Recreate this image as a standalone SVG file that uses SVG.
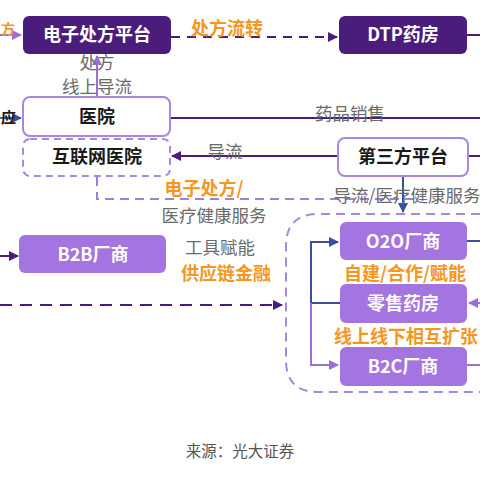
<svg xmlns="http://www.w3.org/2000/svg" width="480" height="480" viewBox="0 0 480 480">
<style>
.t{font-family:"Noto Sans CJK SC","Liberation Sans",sans-serif;text-anchor:middle}
.bw{font-size:18px;font-weight:bold;fill:#fff}
.bk{font-size:18px;font-weight:bold;fill:#1a1a1a}
.g{font-size:17.5px;fill:#6b6b6b}
.o{font-size:18px;font-weight:bold;fill:#f5961e}
.dark{fill:#4a1c7c}
.mid{fill:#a474e0}
.wb{fill:#fff;stroke:#a887e0;stroke-width:2}
.ln{fill:none;stroke-width:2}
</style>
<defs>
<marker id="aD" viewBox="0 0 10 10" refX="9" refY="5" markerWidth="5" markerHeight="5" orient="auto"><path d="M0,0L10,5L0,10z" fill="#4a1c7c"/></marker>
<marker id="aL" viewBox="0 0 10 10" refX="9" refY="5" markerWidth="5" markerHeight="5" orient="auto"><path d="M0,0L10,5L0,10z" fill="#9a70d8"/></marker>
<marker id="aB" viewBox="0 0 10 10" refX="9" refY="5" markerWidth="5" markerHeight="5" orient="auto"><path d="M0,0L10,5L0,10z" fill="#3c4c9e"/></marker>
</defs>
<rect width="480" height="480" fill="#fff"/>
<g id="connectors">
<line x1="0" y1="35" x2="21" y2="35" class="ln" stroke="#9a70d8" marker-end="url(#aL)"/>
<line x1="171" y1="37" x2="337" y2="37" class="ln" stroke="#4a1c7c" stroke-dasharray="9,7" marker-end="url(#aD)"/>
<line x1="467" y1="35" x2="480" y2="35" class="ln" stroke="#4a1c7c"/>
<line x1="97" y1="96" x2="97" y2="56" class="ln" stroke="#9a70d8" marker-end="url(#aL)"/>
<line x1="0" y1="118" x2="21" y2="118" class="ln" stroke="#3c6cc0" marker-end="url(#aB)"/>
<line x1="170" y1="118" x2="480" y2="118" class="ln" stroke="#4a1c7c"/>
<line x1="337" y1="156" x2="172" y2="156" class="ln" stroke="#4a1c7c" marker-end="url(#aD)"/>
<line x1="468" y1="156" x2="480" y2="156" class="ln" stroke="#4a1c7c"/>
<path d="M97,177V199H420" class="ln" stroke="#9a80e0" stroke-dasharray="9,6"/>
<line x1="403" y1="177" x2="403" y2="212" class="ln" stroke="#3c4c9e" marker-end="url(#aB)"/>
<path d="M480,214H318Q286,214 286,246V360Q286,392 318,392H480" class="ln" stroke="#a887e0" stroke-dasharray="9,6"/>
<line x1="0" y1="256" x2="18" y2="256" class="ln" stroke="#4a1c7c" marker-end="url(#aD)"/>
<line x1="0" y1="305" x2="282" y2="305" class="ln" stroke="#4a1c7c" stroke-dasharray="12,8" marker-end="url(#aD)"/>
<path d="M340,303H311V242H338" class="ln" stroke="#3c4c9e" marker-end="url(#aB)"/>
<path d="M311,303V365H338" class="ln" stroke="#9a70d8" marker-end="url(#aL)"/>
<line x1="467" y1="241" x2="480" y2="241" class="ln" stroke="#3c4c9e"/>
<line x1="480" y1="303" x2="469" y2="303" class="ln" stroke="#9a70d8" marker-end="url(#aL)"/>
<line x1="467" y1="365" x2="480" y2="365" class="ln" stroke="#9a70d8"/>
</g>
<g id="labels">
<text x="15" y="34" class="t o" style="text-anchor:end;font-size:14px">方</text>
<text x="227" y="35" class="t o">处方流转</text>
<text x="97" y="69" class="t g">处方</text>
<text x="97" y="93" class="t g">线上导流</text>
<text x="16" y="123" class="t bk" style="text-anchor:end;font-size:15px">应</text>
<text x="350" y="120" class="t g">药品销售</text>
<text x="225" y="158" class="t g">导流</text>
<text x="204" y="195" class="t o">电子处方/</text>
<text x="214" y="222" class="t g">医疗健康服务</text>
<text x="407" y="202" class="t g">导流/医疗健康服务</text>
<text x="220" y="254" class="t g">工具赋能</text>
<text x="226" y="280" class="t o">供应链金融</text>
<text x="405" y="280" class="t o">自建/合作/赋能</text>
<text x="406" y="343" class="t o">线上线下相互扩张</text>
<text x="240" y="457" class="t" style="font-size:15.5px;fill:#555">来源：光大证券</text>
</g>
<g id="n1"><rect x="23" y="16" width="148" height="38" rx="6" class="dark"/><text x="97" y="41" class="t bw">电子处方平台</text></g>
<g id="n2"><rect x="339" y="16" width="128" height="38" rx="6" class="dark"/><text x="403" y="41" class="t bw">DTP药房</text></g>
<g id="n3"><rect x="23" y="97" width="147" height="39" rx="7" class="wb"/><text x="97" y="123" class="t bk">医院</text></g>
<g id="n4"><rect x="23" y="139" width="147" height="37" rx="7" fill="#fff" stroke="#a887e0" stroke-width="2" stroke-dasharray="7,5"/><text x="97" y="163" class="t bk">互联网医院</text></g>
<g id="n5"><rect x="338" y="138" width="130" height="38" rx="7" class="wb"/><text x="403" y="163" class="t bk">第三方平台</text></g>
<g id="n6"><rect x="19" y="235" width="147" height="38" rx="6" class="mid"/><text x="93" y="261" class="t bw">B2B厂商</text></g>
<g id="n7"><rect x="340" y="222" width="127" height="38" rx="6" class="mid"/><text x="403" y="248" class="t bw">O2O厂商</text></g>
<g id="n8"><rect x="340" y="284" width="127" height="39" rx="6" class="mid"/><text x="403" y="310" class="t bw">零售药房</text></g>
<g id="n9"><rect x="340" y="347" width="127" height="39" rx="6" class="mid"/><text x="403" y="373" class="t bw">B2C厂商</text></g>
</svg>
